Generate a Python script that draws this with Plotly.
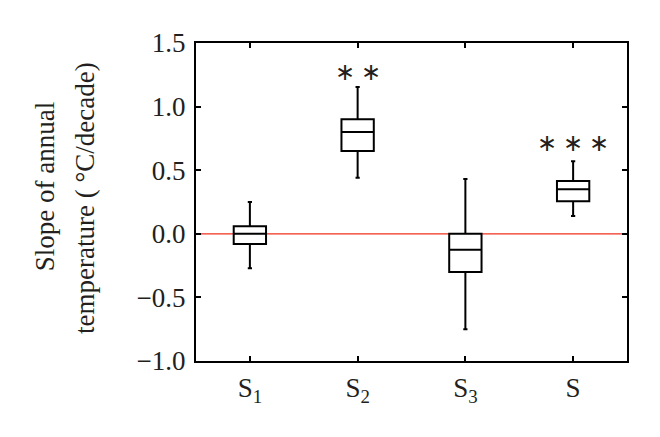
import plotly.graph_objects as go

categories = ["S1", "S2", "S3", "S"]
tick_labels = ["S<sub>1</sub>", "S<sub>2</sub>", "S<sub>3</sub>", "S"]
lower_whisker = [-0.27, 0.44, -0.75, 0.14]
q1_vals = [-0.08, 0.65, -0.30, 0.255]
medians = [0.0, 0.80, -0.125, 0.35]
q3_vals = [0.06, 0.90, 0.0, 0.415]
upper_whisker = [0.25, 1.155, 0.43, 0.57]
sig_labels = ["", "∗ ∗", "", "∗ ∗ ∗"]
sig_y = [None, 1.27, None, 0.71]
y_ticks = [-1.0, -0.5, 0.0, 0.5, 1.0, 1.5]
y_tick_text = ["−1.0", "−0.5", "0.0", "0.5", "1.0", "1.5"]
title_lines = ["Slope of annual", "temperature ( °C/decade)"]

FONT = "Liberation Serif"
TXT = "#231f20"

fig = go.Figure()
fig.add_trace(go.Box(
    x=categories,
    q1=q1_vals, median=medians, q3=q3_vals,
    lowerfence=lower_whisker, upperfence=upper_whisker,
    width=0.3, whiskerwidth=0.13,
    fillcolor="white",
    line=dict(color="black", width=2),
    boxpoints=False, showlegend=False, hoverinfo="skip",
))

fig.add_shape(type="line", xref="paper", yref="y", x0=0, x1=1, y0=0, y1=0,
              line=dict(color="#f0301e", width=1.3), layer="below")

for c, t, y in zip(categories, sig_labels, sig_y):
    if t:
        fig.add_annotation(x=c, y=y, text=t, showarrow=False,
                           font=dict(family=FONT, size=24, color=TXT))

# two-line rotated y-axis title
fig.add_annotation(xref="paper", yref="paper", x=-0.350, y=0.547,
                   text=title_lines[0], textangle=-90, showarrow=False,
                   xanchor="center", yanchor="middle",
                   font=dict(family=FONT, size=27, color=TXT))
fig.add_annotation(xref="paper", yref="paper", x=-0.258, y=0.512,
                   text=title_lines[1], textangle=-90, showarrow=False,
                   xanchor="center", yanchor="middle",
                   font=dict(family=FONT, size=27, color=TXT))

fig.update_layout(
    width=652, height=429,
    margin=dict(l=188, r=33, t=35, b=76),
    paper_bgcolor="white", plot_bgcolor="white",
    font=dict(family=FONT, size=27, color=TXT),
)
fig.update_xaxes(
    type="category", range=[-0.5, 3.5],
    tickvals=categories, ticktext=tick_labels,
    showline=True, linewidth=2, linecolor="black", mirror="ticks",
    ticks="inside", ticklen=5, tickwidth=2, tickcolor="black",
    showgrid=False, zeroline=False, ticklabelstandoff=2,
    tickfont=dict(family=FONT, size=27, color=TXT),
)
fig.update_yaxes(
    range=[-1.0, 1.5], tickvals=y_ticks, ticktext=y_tick_text,
    showline=True, linewidth=2, linecolor="black", mirror="ticks",
    ticks="inside", ticklen=5, tickwidth=2, tickcolor="black",
    showgrid=False, zeroline=False, ticklabelstandoff=3,
    tickfont=dict(family=FONT, size=27, color=TXT),
)

fig.write_html("out.html")
